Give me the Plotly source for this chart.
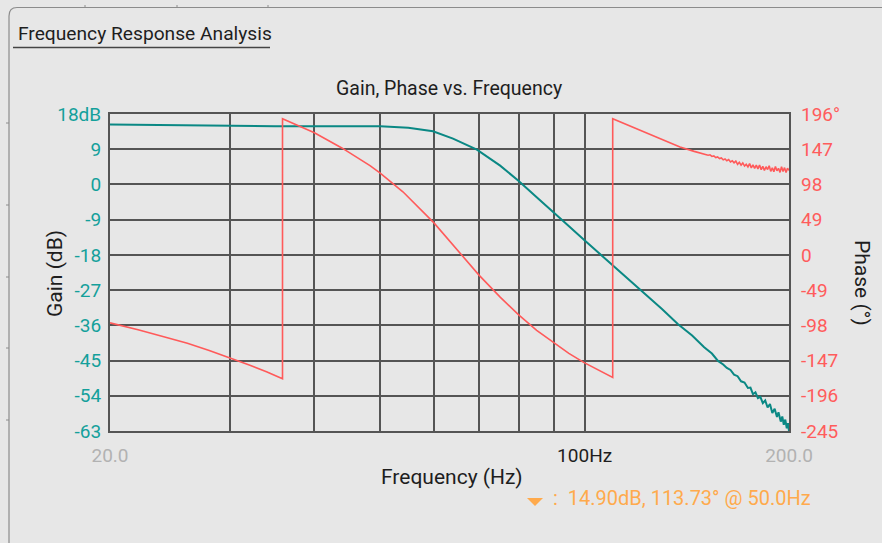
import numpy as np
import plotly.graph_objects as go

# ---------------- data ----------------
gain_freq = [20, 25, 30, 35, 40, 45, 50, 55, 57.2, 59.8, 64.0, 69.4, 75.1, 79.9, 85.0,
             89.6, 92.9, 99.4, 110, 120.7, 130, 137.3, 144, 150, 154, 157.2,
             160, 162, 164, 166, 168, 170, 172, 174, 175.5, 177, 178.5, 180, 181.5,
             183, 184.5, 186, 187.5, 189, 190.5, 192, 193, 194.5, 195.5, 196.5,
             197.5, 198.5, 199.3, 200]
gain_db = [15.3, 15.1, 14.95, 14.9, 14.9, 14.88, 14.88, 14.46, 14.03, 13.59, 11.72, 8.9,
           4.8, 0.95, -3.28, -6.74, -9.3, -13.9, -20.6, -26.7, -31.8, -35.7, -38.6,
           -41.6, -43.2, -45.1,
           -46.0, -46.9, -47.4, -48.6, -49.0, -50.3, -50.6, -52.0, -51.9, -53.6, -53.1,
           -54.6, -54.3, -55.9, -55.2, -57.0, -56.1, -58.4, -57.3, -59.4, -58.2, -60.6,
           -59.3, -61.4, -60.1, -62.3, -61.0, -63.0]

phase_freq = [20, 22, 24, 26, 28, 30, 32, 34, 35.9,
              35.9, 37.9, 40, 43.9, 48.3, 50, 54.0, 60, 65.1, 69.9, 75.1, 79.9, 85.0,
              90.0, 94.8, 99.7, 105.1, 110,
              110, 120, 130, 138.2, 145, 150, 151, 152, 153, 154, 155, 156, 157, 158,
              159, 160, 161, 162, 163, 164, 165, 166, 167, 168, 169, 170, 171, 172, 173,
              174, 175, 176, 177, 178, 179, 180, 181, 182, 183, 184, 185, 186, 187, 188,
              189, 190, 191, 192, 193, 194, 195, 196, 197, 198, 199, 200]
phase_deg = [-94.6, -104, -114, -123, -133, -143, -153, -162.5, -172.3,
             189.3, 180, 169.8, 148.8, 124.1, 113.7, 87.8, 44.5, 5.4, -28.1, -58.8,
             -83.2, -104.9, -122.3, -137.0, -149.6, -161.4, -170.5,
             189.3, 174, 160, 150, 144, 140, 139.0, 138.6, 139.2, 137.0, 137.6, 135.4,
             136.3, 134.0, 134.9, 132.2, 133.5, 131.0, 132.6, 129.4, 131.0, 128.0, 130.4,
             126.0, 128.8, 124.8, 127.9, 123.6, 126.0, 122.4, 127.0, 121.0, 125.2, 120.4,
             124.8, 119.6, 125.0, 118.6, 123.2, 117.4, 122.6, 118.8, 124.0, 116.2, 121.0,
             115.8, 123.0, 117.0, 120.4, 114.8, 122.6, 116.0, 121.4, 114.6, 120.6, 117.5]

marker_freq = 50.0
marker_gain = 14.90
marker_phase = 113.73

gain_ticks = [18, 9, 0, -9, -18, -27, -36, -45, -54, -63]
gain_ticktext = ["18dB", "9", "0", "-9", "-18", "-27", "-36", "-45", "-54", "-63"]
phase_ticks = [196, 147, 98, 49, 0, -49, -98, -147, -196, -245]
phase_ticktext = ["196°", "147", "98", "49", "0", "-49", "-98", "-147", "-196", "-245"]
freq_grid = [20, 30, 40, 50, 60, 70, 80, 90, 100, 200]
freq_ticktext = ['<span style="color:#b2b2b2">20.0</span>', "", "", "", "", "", "", "", "100Hz",
                 '<span style="color:#b2b2b2">200.0</span>']

# ---------------- styling ----------------
W, H = 882, 543
L, R, T, B = 110, 93, 114, 112
BG = "#E7E7E7"
GRID = "#555555"
TEAL = "#0A8884"
TEAL_T = "#14A09B"
RED = "#FF5A5A"
RED_T = "#FF5C5C"
ORANGE = "#FFAA4C"
DARK = "#1E1E1E"
FONT = "Roboto, sans-serif"


def px(x):
    return (x - L) / (W - L - R)


def py(y):
    return (H - B - y) / (H - T - B)


fig = go.Figure()
fig.add_trace(go.Scatter(x=gain_freq, y=gain_db, mode="lines", yaxis="y",
                         line=dict(color=TEAL, width=2), showlegend=False, hoverinfo="skip"))
fig.add_trace(go.Scatter(x=phase_freq, y=phase_deg, mode="lines", yaxis="y2",
                         line=dict(color=RED, width=1.6), showlegend=False, hoverinfo="skip"))

shapes = []
# marker triangles (tip at data point)
tri = "M -8 8 L 8 8 L 0 0 Z"
shapes.append(dict(type="path", xref="x", yref="y", xsizemode="pixel", ysizemode="pixel",
                   xanchor=np.log10(marker_freq), yanchor=marker_gain, path=tri,
                   fillcolor=ORANGE, line=dict(width=0)))
shapes.append(dict(type="path", xref="x", yref="y2", xsizemode="pixel", ysizemode="pixel",
                   xanchor=np.log10(marker_freq), yanchor=marker_phase, path=tri,
                   fillcolor=ORANGE, line=dict(width=0)))
# readout triangle
shapes.append(dict(type="path", xref="paper", yref="paper", xsizemode="pixel", ysizemode="pixel",
                   xanchor=px(535), yanchor=py(506), path=tri,
                   fillcolor=ORANGE, line=dict(width=0)))

# panel frame with rounded corner
panel = (f"M {px(9)} {py(600)} L {px(9)} {py(16)} Q {px(9)} {py(7.5)} {px(17)} {py(7.5)} "
         f"L {px(920)} {py(7.5)}")
shapes.append(dict(type="path", xref="paper", yref="paper", path=panel,
                   line=dict(color="#8C8C8C", width=1.2)))
# small ruler marks on the frame
for yy in [123, 205, 277, 348, 420]:
    shapes.append(dict(type="line", xref="paper", yref="paper", x0=px(6), x1=px(9),
                       y0=py(yy), y1=py(yy), line=dict(color="#8C8C8C", width=1)))
for xx in [85, 177, 268]:
    shapes.append(dict(type="line", xref="paper", yref="paper", x0=px(xx), x1=px(xx),
                       y0=py(5), y1=py(7.5), line=dict(color="#8C8C8C", width=1)))
# underline of panel title
shapes.append(dict(type="line", xref="paper", yref="paper", x0=px(13), x1=px(270),
                   y0=py(47.5), y1=py(47.5), line=dict(color="#444444", width=1.5)))

annotations = [
    dict(text="Frequency Response Analysis", x=px(16), y=py(33), xref="paper", yref="paper",
         xanchor="left", yanchor="middle", showarrow=False, font=dict(family=FONT, size=19.2, color=DARK)),
    dict(text="Gain, Phase vs. Frequency", x=px(449), y=py(88), xref="paper", yref="paper",
         xanchor="center", yanchor="middle", showarrow=False, font=dict(family=FONT, size=19.5, color=DARK)),
    dict(text="Frequency (Hz)", x=px(452), y=py(477), xref="paper", yref="paper",
         xanchor="center", yanchor="middle", showarrow=False, font=dict(family=FONT, size=21, color=DARK)),
    dict(text="Gain (dB)", x=px(55), y=py(274), xref="paper", yref="paper", textangle=-90,
         xanchor="center", yanchor="middle", showarrow=False, font=dict(family=FONT, size=21, color=DARK)),
    dict(text="Phase (°)", x=px(862), y=py(283), xref="paper", yref="paper", textangle=90,
         xanchor="center", yanchor="middle", showarrow=False, font=dict(family=FONT, size=21, color=DARK)),
    dict(text=f":  {marker_gain:.2f}dB, {marker_phase:.2f}° @ {marker_freq:.1f}Hz",
         x=px(551), y=py(498), xref="paper", yref="paper",
         xanchor="left", yanchor="middle", showarrow=False, font=dict(family=FONT, size=20, color=ORANGE)),
]

fig.update_layout(
    width=W, height=H,
    margin=dict(l=L, r=R, t=T, b=B, pad=0),
    paper_bgcolor=BG, plot_bgcolor=BG,
    showlegend=False,
    shapes=shapes,
    annotations=annotations,
    xaxis=dict(type="log", range=[np.log10(20), np.log10(200)], tickmode="array",
               tickvals=freq_grid, ticktext=freq_ticktext, showgrid=True, gridcolor=GRID,
               gridwidth=2, showline=True, mirror=True, linecolor=GRID, linewidth=2,
               ticks="", ticklabelstandoff=6, zeroline=False,
               tickfont=dict(family=FONT, size=19, color=DARK)),
    yaxis=dict(range=[-63, 18], tickmode="array", tickvals=gain_ticks, ticktext=gain_ticktext,
               showgrid=True, gridcolor=GRID, gridwidth=2, showline=True, mirror=True,
               linecolor=GRID, linewidth=2, ticks="", ticklabelstandoff=3, zeroline=False,
               tickfont=dict(family=FONT, size=19, color=TEAL_T)),
    yaxis2=dict(range=[-245, 196], overlaying="y", side="right", tickmode="array",
                tickvals=phase_ticks, ticktext=phase_ticktext, showgrid=False, showline=False,
                zeroline=False, ticks="", ticklabelstandoff=11,
                tickfont=dict(family=FONT, size=19, color=RED_T)),
)

fig.write_html("out.html", config={"displayModeBar": False},
               post_script="document.body.style.margin='0';")
